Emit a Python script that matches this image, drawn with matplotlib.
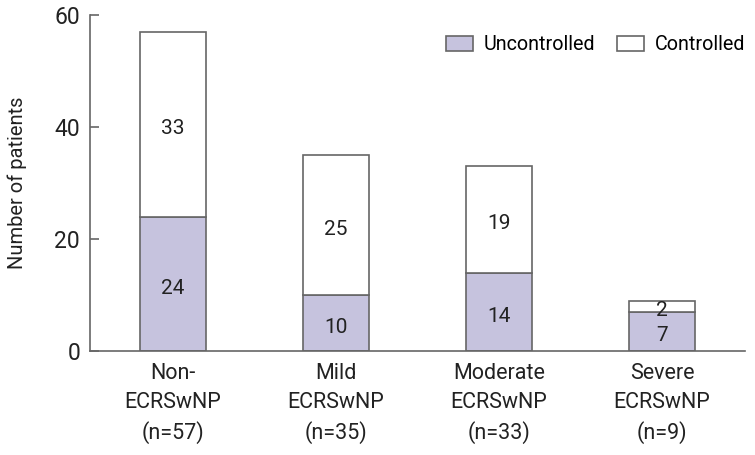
import matplotlib
matplotlib.use("Agg")
import matplotlib.pyplot as plt
import numpy as np

# data
categories = ["Non-\nECRSwNP\n(n=57)", "Mild\nECRSwNP\n(n=35)",
              "Moderate\nECRSwNP\n(n=33)", "Severe\nECRSwNP\n(n=9)"]
uncontrolled = [24, 10, 14, 7]
controlled = [33, 25, 19, 2]
yticks = [0, 20, 40, 60]

FILL = "#c6c3de"
EDGE = "#666666"
TXT = "#222222"

plt.rcParams["font.family"] = ["Roboto", "DejaVu Sans"]

fig = plt.figure(figsize=(7.55, 4.55), dpi=100)
ax = fig.add_axes([0.119, 0.2286, 0.868, 0.7384])

x = np.arange(len(categories))
w = 0.405
ax.bar(x, uncontrolled, w, color=FILL, edgecolor=EDGE, lw=1.2, label="Uncontrolled")
ax.bar(x, controlled, w, bottom=uncontrolled, color="white", edgecolor=EDGE,
       lw=1.2, label="Controlled")

# segment labels, a touch below the centre as in the original
for i in range(len(x)):
    u, c = uncontrolled[i], controlled[i]
    ax.text(x[i], u / 2 - 0.4, str(u), ha="center", va="center_baseline",
            fontsize=15, color=TXT)
    ax.text(x[i], u + c / 2 - 0.4, str(c), ha="center", va="center_baseline",
            fontsize=15, color=TXT)

ax.set_xlim(-0.51, 3.51)
ax.set_ylim(0, 60)
ax.set_yticks(yticks)
ax.set_xticks(x)
ax.set_xticklabels(categories, fontsize=15.5, color=TXT, linespacing=1.45)
ax.tick_params(axis="y", direction="in", length=6.5, width=1.2, color=EDGE,
               labelsize=16.5, labelcolor=TXT, pad=7)
ax.tick_params(axis="x", length=0, pad=9)
ax.set_ylabel("Number of patients", fontsize=14.5, color=TXT, labelpad=20)

for s in ["top", "right"]:
    ax.spines[s].set_visible(False)
for s in ["left", "bottom"]:
    ax.spines[s].set_color(EDGE)
    ax.spines[s].set_linewidth(1.2)

ax.legend(loc="center right", ncol=2, frameon=False, fontsize=14.2,
          bbox_to_anchor=(745 / 755, 1 - 45 / 455), bbox_transform=fig.transFigure,
          borderpad=0, borderaxespad=0, handlelength=1.35, handleheight=0.75,
          columnspacing=1.1, handletextpad=0.55)

fig.savefig("out.png", dpi=100, facecolor="white")
